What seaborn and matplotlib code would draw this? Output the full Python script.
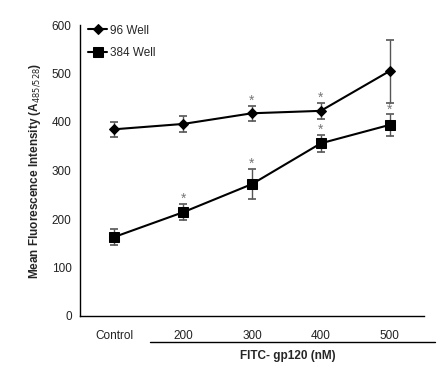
import matplotlib
matplotlib.use("Agg")
import matplotlib.pyplot as plt
import seaborn as sns
import pandas as pd
import numpy as np
from matplotlib.lines import Line2D

categories = ["Control", "200", "300", "400", "500"]
well96 = [385, 396, 418, 423, 505]
well96_err = [16, 16, 16, 16, 65]
well384 = [163, 214, 272, 356, 394]
well384_err = [17, 17, 31, 18, 22]
sig96 = [False, False, True, True, False]
sig384 = [False, True, True, True, True]

sns.set_theme(style="white")
plt.rcParams["font.family"] = ["Liberation Sans", "DejaVu Sans"]

df = pd.concat([
    pd.DataFrame({"pos": range(5), "val": well96, "err": well96_err, "series": "96 Well"}),
    pd.DataFrame({"pos": range(5), "val": well384, "err": well384_err, "series": "384 Well"}),
])

fig = plt.figure(figsize=(4.37, 3.74), dpi=100)
ax = fig.add_axes([80/437, 1-316/374, 344/437, 291/374])

# error bars
for name, sub in df.groupby("series", sort=False):
    ax.errorbar(sub["pos"], sub["val"], yerr=sub["err"], fmt="none",
                ecolor="#555555", elinewidth=1.0, capsize=3, capthick=1.2, zorder=2)

sns.lineplot(data=df, x="pos", y="val", hue="series", style="series",
             markers={"96 Well": "D", "384 Well": "s"}, dashes=False,
             palette={"96 Well": "black", "384 Well": "black"},
             markersize=7, linewidth=1.5, ax=ax, zorder=3,
             markeredgecolor="black")
for line in ax.get_lines():
    if line.get_marker() == "D":
        line.set_markersize(5)
    elif line.get_marker() == "s":
        line.set_markersize(7)

for vals, errs, sig in [(well96, well96_err, sig96), (well384, well384_err, sig384)]:
    for i, (v, e, s) in enumerate(zip(vals, errs, sig)):
        if s:
            ax.annotate("*", (i, v + e), xytext=(0, -1.5), textcoords="offset points",
                        ha="center", va="bottom", fontsize=10, color="#777777")

ax.set_xlim(-0.5, 4.5)
ax.set_ylim(0, 600)
ax.set_yticks([0, 100, 200, 300, 400, 500, 600])
ax.set_xticks(np.arange(-0.5, 5.0, 1.0))
ax.set_xticklabels([])
ax.set_xticks(range(5), minor=True)
ax.set_xticklabels(categories, minor=True)
ax.tick_params(axis="x", which="major", direction="out", length=3, width=1, color="black")
ax.tick_params(axis="x", which="minor", length=0, pad=10, labelsize=8.5, labelcolor="#222222")
ax.tick_params(axis="y", direction="out", length=4, width=1, color="black", labelsize=8.5,
               labelcolor="#222222", pad=2)
for side in ["top", "right"]:
    ax.spines[side].set_visible(False)
for side in ["left", "bottom"]:
    ax.spines[side].set_color("black")
    ax.spines[side].set_linewidth(1)
ax.set_xlabel("")
ax.set_ylabel("Mean Fluorescence Intensity (A$_{485/528}$)", fontsize=8.5,
              fontweight="bold", labelpad=6)

h, l = ax.get_legend_handles_labels()
ax.legend(h, l, loc="upper left", bbox_to_anchor=(0.0, 1.03), frameon=False,
          fontsize=8.5, handlelength=1.6, handletextpad=0.2, labelspacing=0.9,
          borderaxespad=0.3)

fig.add_artist(Line2D([150/437, 435/437], [1-342/374, 1-342/374], color="black", lw=1))
fig.text(288/437, 1-356/374, "FITC- gp120 (nM)", ha="center", va="center",
         fontsize=8.5, fontweight="bold")

fig.savefig("out.png", dpi=100)
